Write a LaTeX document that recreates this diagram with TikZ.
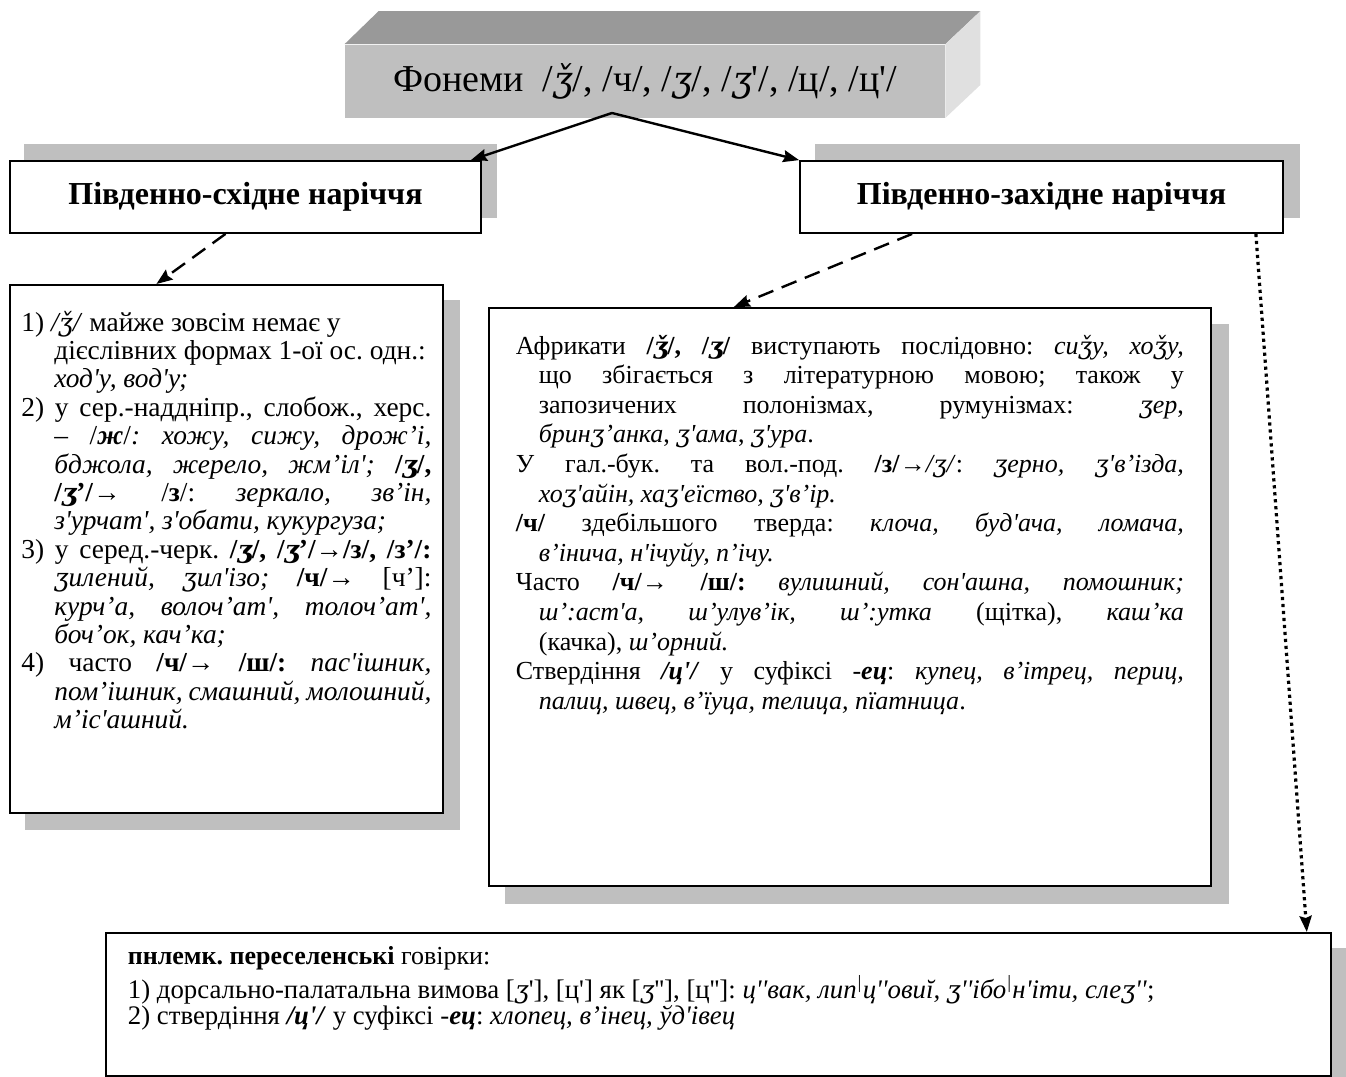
\documentclass[tikz,border=0pt]{standalone}
\usepackage{fontspec}
\setmainfont{Liberation Serif}[Ligatures=TeXOff]
\newfontfamily\ipafont{DejaVu Serif}[Scale=0.92]
\usepackage{tikz}
\usetikzlibrary{arrows.meta,backgrounds,positioning}
\frenchspacing

\newcommand{\zed}{{\ipafont\itshape ʒ}}
\newcommand{\zedh}{{\ipafont\itshape ǯ}}

\begin{document}
\begin{tikzpicture}[x=0.5pt,y=-0.5pt]
	\tikzstyle{Title}	= [rectangle, fill=black!25, minimum width=300pt, minimum height=36.5pt, inner sep=0pt, font=\fontsize{19}{22}\selectfont]
	\tikzstyle{TopFace}	= [fill=black!40]
	\tikzstyle{SideFace}	= [fill=black!12]
	\tikzstyle{Head}	= [rectangle, draw, line width=0.9pt, fill=white, minimum height=36pt, inner sep=0pt, font=\bfseries\fontsize{16}{19}\selectfont]
	\tikzstyle{TextBox}	= [rectangle, draw, line width=0.9pt, fill=white, inner xsep=5.75pt, inner ysep=10pt, anchor=north west, font=\fontsize{13}{14.2}\selectfont]
	\tikzstyle{Shadow}	= [fill=black!25]
	\tikzstyle{Solid}	= [line width=1.2pt, -{Stealth[length=8pt,width=6pt,inset=1pt]}]
	\tikzstyle{Dashed}	= [Solid, dash pattern=on 8pt off 4.5pt]
	\tikzstyle{Dotted}	= [Solid, line width=1.6pt, dash pattern=on 1.6pt off 1.9pt]

	\useasboundingbox (0,0) rectangle (1346,1077);

	% title block
	\node (title) at (645,81) [Title] {Фонеми\ \ /\zedh/, /ч/, /\zed/, /\zed'/, /ц/, /ц'/};
	\fill [TopFace] (title.north west) -- ++(17pt,16.5pt) -- ([shift={(17.5pt,16.5pt)}]title.north east) -- (title.north east) -- cycle;
	\fill [SideFace] (title.north east) -- ++(17.5pt,16.5pt) -- ([shift={(17.5pt,16.5pt)}]title.south east) -- (title.south east) -- cycle;

	\node (se) at (245.5,197) [Head, minimum width=235.5pt] {Південно-східне наріччя};
	\node (sw) at (1041.5,197) [Head, minimum width=241.5pt] {Південно-західне наріччя};

	\node (ls) at (9,284) [TextBox] {\parbox[t][244pt][t]{205pt}{%
		\fontsize{13.7}{14.2}\selectfont\vspace*{3pt}
		\hangindent=16.5pt \hangafter=1 1) \textit{/\zedh/} майже зовсім немає у\\ дієслівних формах 1-ої ос. одн.:\\ \textit{ход'у, вод'у;}\par
		\hangindent=16.5pt \hangafter=1 2) у сер.-наддніпр., слобож., херс.\linebreak
		– /\textbf{\textit{ж}}/\textit{: хожу, сижу, дрож’і,}\linebreak
		\textit{бджола, жерело, жм’іл';} \textbf{/\zed/,}\linebreak
		\textbf{/\zed’/}→ /\textbf{з}/: \textit{зеркало, зв’ін,}\linebreak
		\textit{з'урчат', з'обати, кукургуза;}\par
		\hangindent=16.5pt \hangafter=1 3) у серед.-черк. \textbf{/\zed/, /\zed’/→/з/, /з’/:}\linebreak
		\textit{\zed{}илений, \zed{}ил'ізо;} \textbf{/ч/→} [ч’]:\linebreak
		\textit{курч’а, волоч’ат', толоч’ат',}\linebreak
		\textit{боч’ок, кач’ка;}\par
		\hangindent=16.5pt \hangafter=1 4) часто \textbf{/ч/→ /ш/:} \textit{пас'ішник,}\linebreak
		\textit{пом’ішник, смашний, молошний,}\linebreak
		\textit{м’іс'ашний.}}};

	\node (mt) at (488,307) [TextBox, inner xsep=13.5pt] {\parbox[t][269pt][t]{334pt}{%
		\fontsize{13}{14.8}\selectfont\vspace*{3.5pt}
		\hangindent=11.5pt \hangafter=1 Африкати \textbf{/\zedh/, /\zed/} виступають послідовно: \textit{си\zedh{}у, хо\zedh{}у,}\linebreak
		що збігається з літературною мовою; також у\linebreak
		запозичених полонізмах, румунізмах: \textit{\zed{}ер},\linebreak
		\textit{брин\zed’анка}, \textit{\zed'ама}, \textit{\zed'ура}.\par
		\hangindent=11.5pt \hangafter=1 У гал.-бук. та вол.-под. \textbf{/з/}→\textit{/\zed/}: \textit{\zed{}ерно, \zed'в’ізда,}\linebreak
		\textit{хо\zed'айін, ха\zed'еїство, \zed'в’ір.}\par
		\hangindent=11.5pt \hangafter=1 \textbf{/ч/} здебільшого тверда: \textit{клоча, буд'ача, ломача,}\linebreak
		\textit{в’інича, н'ічуйу, п’ічу.}\par
		\hangindent=11.5pt \hangafter=1 Часто \textbf{/ч/→ /ш/:} \textit{вулишний, сон'ашна, помошник;}\linebreak
		\textit{ш’:аст'а, ш’улув’ік, ш’:утка} (щітка), \textit{каш’ка}\linebreak
		(качка), \textit{ш’орний.}\par
		\hangindent=11.5pt \hangafter=1 Ствердіння \textbf{\textit{/ц'/}} у суфіксі -\textbf{\textit{ец}}: \textit{купец, в’ітрец, периц,}\linebreak
		\textit{палиц, швец, в’їуца, телица, пїатница}.}};

	\node (bt) at (105,932) [TextBox, inner xsep=11pt, inner ysep=7pt] {\parbox[t][57.5pt][t]{590.5pt}{%
		\textbf{пнлемк. переселенські} говірки:\par\vspace{4pt}
		\fontsize{13.4}{12.8}\selectfont\lineskiplimit=-20pt
		1) дорсально-палатальна вимова [\zed'], [ц'] як [\zed''], [ц'']: \textit{ц''вак, лип\textsuperscript{|}ц''ови\u{\i}, \zed''ібо\textsuperscript{|}н'іти, сле\zed''};\par
		2) ствердіння \textbf{\textit{/ц'/}} у суфіксі -\textbf{\textit{ец}}: \textit{хлопец, в’інец, ўд'івец}}};

	\begin{pgfonlayer}{background}
		\fill [Shadow] ([shift={(7.5pt,8pt)}]se.south west) rectangle ([shift={(7.5pt,8pt)}]se.north east);
		\fill [Shadow] ([shift={(8pt,8pt)}]sw.south west) rectangle ([shift={(8pt,8pt)}]sw.north east);
		\fill [Shadow] ([shift={(8pt,-8pt)}]ls.south west) rectangle ([shift={(8pt,-8pt)}]ls.north east);
		\fill [Shadow] ([shift={(8.5pt,-8.5pt)}]mt.south west) rectangle ([shift={(8.5pt,-8.5pt)}]mt.north east);
		\fill [Shadow] ([shift={(8pt,-8pt)}]bt.south west) rectangle ([shift={(8pt,-8pt)}]bt.north east);
	\end{pgfonlayer}

	% connectors
	\coordinate (fork) at (612,113);
	\draw [Solid] (fork) to ([xshift=-5.5pt]se.north east);
	\draw [Solid] (fork) to (sw.north west);
	\draw [Dashed] ([xshift=-10pt]se.south) to ([xshift=-35pt]ls.north);
	\draw [Dashed] ([xshift=56.5pt]sw.south west) to ([xshift=-58pt]mt.north);
	\draw [Dotted] ([xshift=-14pt]sw.south east) to ([xshift=-12.5pt]bt.north east);
\end{tikzpicture}
\end{document}
